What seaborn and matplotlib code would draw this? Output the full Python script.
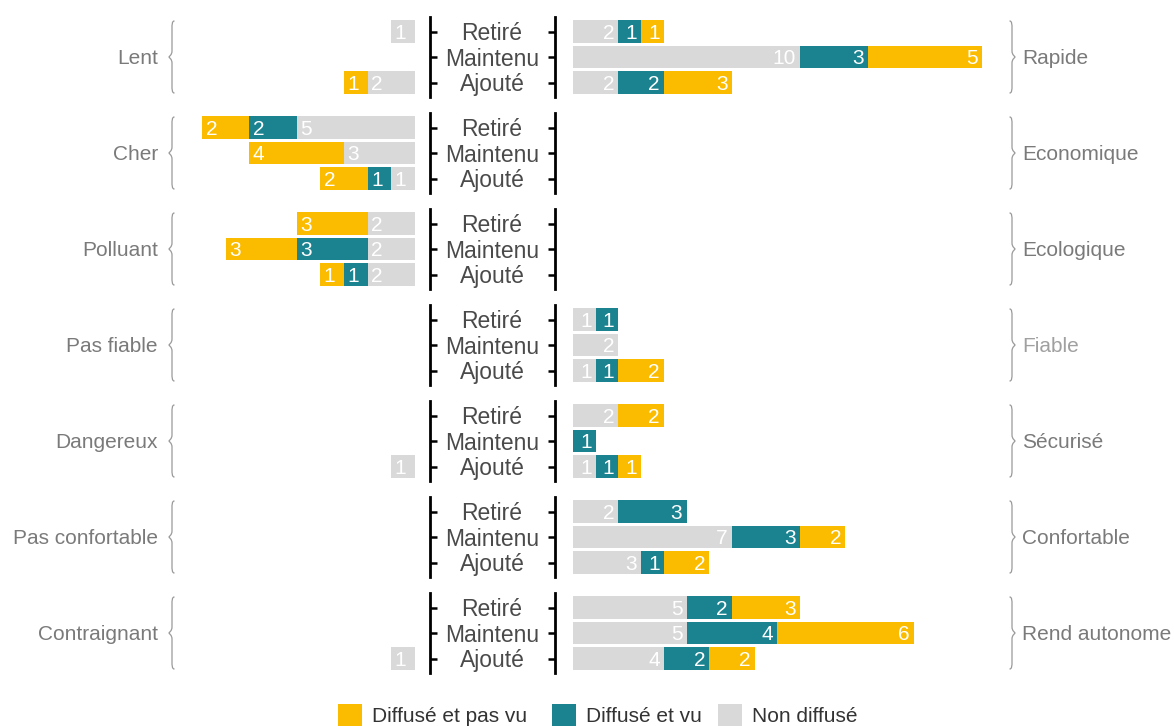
import numpy as np
import pandas as pd
import matplotlib
matplotlib.use("Agg")
import matplotlib.pyplot as plt
from matplotlib.path import Path
from matplotlib.patches import PathPatch, Rectangle
import seaborn as sns

sns.set_theme(style="white")
plt.rcParams["font.family"] = ["Liberation Sans", "DejaVu Sans"]

statuses = ["Retiré", "Maintenu", "Ajouté"]
neg_labels = ["Lent", "Cher", "Polluant", "Pas fiable", "Dangereux",
              "Pas confortable", "Contraignant"]
pos_labels = ["Rapide", "Economique", "Ecologique", "Fiable", "Sécurisé",
              "Confortable", "Rend autonome"]

# Counts per attribute, rows ordered Retiré / Maintenu / Ajouté
neg_non_diffuse = [[1, 0, 2], [5, 3, 1], [2, 2, 2], [0, 0, 0], [0, 0, 1], [0, 0, 0], [0, 0, 1]]
neg_diffuse_vu = [[0, 0, 0], [2, 0, 1], [0, 3, 1], [0, 0, 0], [0, 0, 0], [0, 0, 0], [0, 0, 0]]
neg_diffuse_pas_vu = [[0, 0, 1], [2, 4, 2], [3, 3, 1], [0, 0, 0], [0, 0, 0], [0, 0, 0], [0, 0, 0]]

pos_non_diffuse = [[2, 10, 2], [0, 0, 0], [0, 0, 0], [1, 2, 1], [2, 0, 1], [2, 7, 3], [5, 5, 4]]
pos_diffuse_vu = [[1, 3, 2], [0, 0, 0], [0, 0, 0], [1, 0, 1], [0, 1, 1], [3, 3, 1], [2, 4, 2]]
pos_diffuse_pas_vu = [[1, 5, 3], [0, 0, 0], [0, 0, 0], [0, 0, 2], [2, 0, 1], [0, 2, 2], [3, 6, 2]]

stack_order = ["Non diffusé", "Diffusé et vu", "Diffusé et pas vu"]
colors = {"Diffusé et pas vu": "#FBBC00", "Diffusé et vu": "#1B8290",
          "Non diffusé": "#D9D9D9"}

W, H = 1174, 726
fig = plt.figure(figsize=(W / 100, H / 100), dpi=100)

# overlay in pixel coordinates for braces, labels and legend
ov = fig.add_axes([0, 0, 1, 1])
ov.set_xlim(0, W)
ov.set_ylim(H, 0)
ov.axis("off")
ov.patch.set_visible(False)

row_gap = 25.5
panel_h = 80
group_centers = [57 + 96 * i for i in range(7)]

left_x0, left_x1 = 175, 430
right_x0, right_x1 = 555, 1005
left_unit, right_unit = 23.65, 22.7
left_zero_pad = 15     # gap between the zero line and the axis line (px)
right_zero_pad = 18


def style_axis(ax, side):
    ax.set_xlabel("")
    ax.set_ylabel("")
    half = panel_h / row_gap / 2
    ax.set_ylim(1 + half, 1 - half)
    for sp in ax.spines.values():
        sp.set_visible(False)
    spine = ax.spines["right" if side == "left" else "left"]
    spine.set_visible(True)
    spine.set_color("black")
    spine.set_linewidth(2.0)
    ax.tick_params(axis="x", bottom=False, top=False, labelbottom=False)
    ax.tick_params(axis="y", left=(side == "right"), right=(side == "left"),
                   labelleft=False, labelright=False, direction="out",
                   length=5, width=1.8, color="black")
    ax.set_yticks(range(3))
    ax.patch.set_visible(False)


def draw_panel(ax, counts, side):
    df = pd.DataFrame({"statut": statuses, **counts})
    ends = df[stack_order].cumsum(axis=1)
    # outermost segment first so the inner ones sit on top
    for s in reversed(stack_order):
        sns.barplot(x=ends[s].values, y=df["statut"].values, order=statuses,
                    orient="h", color=colors[s], saturation=1, width=0.9,
                    linewidth=0, errorbar=None, ax=ax)
    for i in range(3):
        for s in stack_order:
            v = int(df.loc[i, s])
            if v <= 0:
                continue
            end = ends.loc[i, s]
            if side == "right":
                ax.annotate(str(v), (end, i), xytext=(-3, 0), textcoords="offset points",
                            ha="right", va="center_baseline", color="white", fontsize=15)
            else:
                ax.annotate(str(v), (end, i), xytext=(2.5, 0), textcoords="offset points",
                            ha="left", va="center_baseline", color="white", fontsize=15)
    style_axis(ax, side)


def brace(x_arm, x_mid, x_tip, yc, half):
    y0, y1 = yc - half, yc + half
    verts = [
        (x_arm, y0),
        (x_mid, y0), (x_mid, y0 + 3), (x_mid, y0 + 8),
        (x_mid, yc - 6),
        (x_mid, yc - 2), (x_tip, yc - 0.5), (x_tip, yc),
        (x_tip, yc + 0.5), (x_mid, yc + 2), (x_mid, yc + 6),
        (x_mid, y1 - 8),
        (x_mid, y1 - 3), (x_mid, y1), (x_arm, y1),
    ]
    codes = [Path.MOVETO,
             Path.CURVE4, Path.CURVE4, Path.CURVE4,
             Path.LINETO,
             Path.CURVE4, Path.CURVE4, Path.CURVE4,
             Path.CURVE4, Path.CURVE4, Path.CURVE4,
             Path.LINETO,
             Path.CURVE4, Path.CURVE4, Path.CURVE4]
    ov.add_patch(PathPatch(Path(verts, codes), fill=False, edgecolor="#9a9a9a", lw=0.9))


label_color = "#7a7a7a"
for g, yc in enumerate(group_centers):
    bottom = 1 - (yc + panel_h / 2) / H
    hfrac = panel_h / H

    axl = fig.add_axes([left_x0 / W, bottom, (left_x1 - left_x0) / W, hfrac])
    draw_panel(axl, {"Non diffusé": neg_non_diffuse[g],
                     "Diffusé et vu": neg_diffuse_vu[g],
                     "Diffusé et pas vu": neg_diffuse_pas_vu[g]}, "left")
    pad_l = left_zero_pad / left_unit
    axl.set_xlim((left_x1 - left_x0) / left_unit - pad_l, -pad_l)

    axr = fig.add_axes([right_x0 / W, bottom, (right_x1 - right_x0) / W, hfrac])
    draw_panel(axr, {"Non diffusé": pos_non_diffuse[g],
                     "Diffusé et vu": pos_diffuse_vu[g],
                     "Diffusé et pas vu": pos_diffuse_pas_vu[g]}, "right")
    pad_r = right_zero_pad / right_unit
    axr.set_xlim(-pad_r, (right_x1 - right_x0) / right_unit - pad_r)

    # status labels between the two panels
    for i, st in enumerate(statuses):
        ov.text(492, yc + (i - 1) * row_gap, st, ha="center", va="center_baseline",
                fontsize=16.5, color="#4a4a4a")

    # braces and attribute names
    brace(174.5, 172, 169, yc, 36)
    brace(1009.5, 1012, 1015, yc, 36)
    ov.text(158, yc, neg_labels[g], ha="right", va="center_baseline",
            fontsize=15, color=label_color)
    ov.text(1022, yc, pos_labels[g], ha="left", va="center_baseline", fontsize=15,
            color="#a0a0a0" if pos_labels[g] == "Fiable" else label_color)

# legend
legend_items = [("Diffusé et pas vu", 338, 372), ("Diffusé et vu", 552, 586),
                ("Non diffusé", 718, 752)]
for name, sx, tx in legend_items:
    ov.add_patch(Rectangle((sx, 704), 24, 22, facecolor=colors[name], edgecolor="none"))
    ov.text(tx, 715, name, ha="left", va="center_baseline", fontsize=15, color="#333333")

fig.savefig("out.png", dpi=100)
